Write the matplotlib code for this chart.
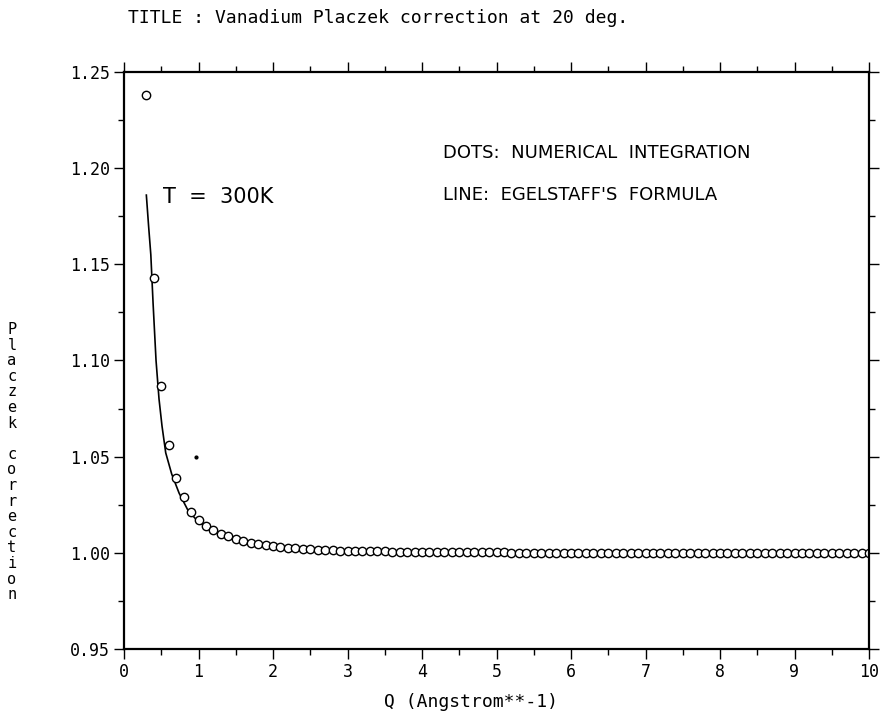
import numpy as np
import matplotlib
matplotlib.use("Agg")
import matplotlib.pyplot as plt
from matplotlib.ticker import MultipleLocator, FormatStrFormatter

# Numerical integration results, Q grid 0.3 .. 10.0 in steps of 0.1
q_dots = np.round(np.arange(0.3, 10.01, 0.1), 2)
p_dots = [
    1.238, 1.143, 1.087, 1.056, 1.039, 1.029, 1.021, 1.017, 1.014, 1.012,
    1.010, 1.0085, 1.0072, 1.0062, 1.0053, 1.0046, 1.0040, 1.0035, 1.0031, 1.0027,
    1.0024, 1.0021, 1.0019, 1.0017, 1.0015, 1.0013, 1.0012, 1.0011, 1.0010, 1.0009,
    1.0008, 1.0007, 1.0007, 1.0006, 1.0006, 1.0005, 1.0005, 1.0004, 1.0004, 1.0004,
    1.0003, 1.0003, 1.0003, 1.0003, 1.0002, 1.0002, 1.0002, 1.0002, 1.0002, 1.0001,
    1.0001, 1.0001, 1.0001, 1.0001, 1.0001, 1.0001, 1.0001, 1.0001, 1.0000, 1.0000,
    1.0000, 1.0000, 1.0000, 1.0000, 1.0000, 1.0000, 1.0000, 1.0000, 1.0000, 1.0000,
    1.0000, 1.0000, 1.0000, 1.0000, 1.0000, 1.0000, 1.0000, 1.0000, 1.0000, 1.0000,
    1.0000, 1.0000, 1.0000, 1.0000, 1.0000, 1.0000, 1.0000, 1.0000, 1.0000, 1.0000,
    1.0000, 1.0000, 1.0000, 1.0000, 1.0000, 1.0000, 1.0000, 1.0000,
]

# Egelstaff's formula curve
q_line = [0.30, 0.33, 0.36, 0.39, 0.43, 0.47, 0.51, 0.56, 0.64, 0.74,
          0.86, 1.0, 1.2, 1.4, 1.6, 1.8, 2.0, 2.5, 3.0, 4.0,
          5.0, 6.0, 8.0, 10.0]
p_line = [1.186, 1.170, 1.155, 1.130, 1.100, 1.080, 1.066, 1.052, 1.041, 1.031,
          1.022, 1.016, 1.011, 1.008, 1.0058, 1.0044, 1.0034, 1.0018, 1.0010, 1.0004,
          1.0002, 1.0001, 1.0000, 1.0000]

# lone plotted point
q_speck = [0.97]
p_speck = [1.050]

x_ticks = [0, 1, 2, 3, 4, 5, 6, 7, 8, 9, 10]
y_ticks = [0.95, 1.00, 1.05, 1.10, 1.15, 1.20, 1.25]

mono = "DejaVu Sans Mono"

fig = plt.figure(figsize=(8.87, 7.18), dpi=100)
ax = fig.add_axes([124 / 887, 1 - 649 / 718, 745 / 887, 577 / 718])

ax.plot(q_line, p_line, color="black", lw=1.2)
ax.plot(q_dots, p_dots, linestyle="none", marker="o", markersize=6.0,
        markerfacecolor="white", markeredgecolor="black", markeredgewidth=1.0)
ax.plot(q_speck, p_speck, linestyle="none", marker="o", markersize=2,
        color="black")

ax.set_xlim(0, 10)
ax.set_ylim(0.95, 1.25)
ax.set_xticks(x_ticks)
ax.set_yticks(y_ticks)
ax.yaxis.set_major_formatter(FormatStrFormatter("%.2f"))
ax.xaxis.set_minor_locator(MultipleLocator(0.5))
ax.yaxis.set_minor_locator(MultipleLocator(0.025))
ax.tick_params(which="both", direction="out", top=True, right=True,
               width=1.0, labelsize=12, pad=3)
ax.tick_params(which="major", length=7)
ax.tick_params(which="minor", length=4)
for lab in ax.get_xticklabels() + ax.get_yticklabels():
    lab.set_fontfamily(mono)
for s in ax.spines.values():
    s.set_linewidth(1.6)

ax.text(0.52, 1.185, "T  =  300K", fontsize=15, va="center", ha="left")
ax.text(4.28, 1.208, "DOTS:  NUMERICAL  INTEGRATION", fontsize=13,
        va="center", ha="left")
ax.text(4.28, 1.186, "LINE:  EGELSTAFF'S  FORMULA", fontsize=13,
        va="center", ha="left")

fig.text(128 / 887, 1 - 18 / 718, "TITLE : Vanadium Placzek correction at 20 deg.",
         family=mono, fontsize=13, ha="left", va="center")
fig.text(471 / 887, 1 - 702 / 718, "Q (Angstrom**-1)", family=mono,
         fontsize=13, ha="center", va="center")
fig.text(12 / 887, 1 - 462 / 718, "\n".join("Placzek correction"), family=mono,
         fontsize=11, ha="center", va="center", linespacing=1.05)

fig.savefig("out.png", dpi=100)
